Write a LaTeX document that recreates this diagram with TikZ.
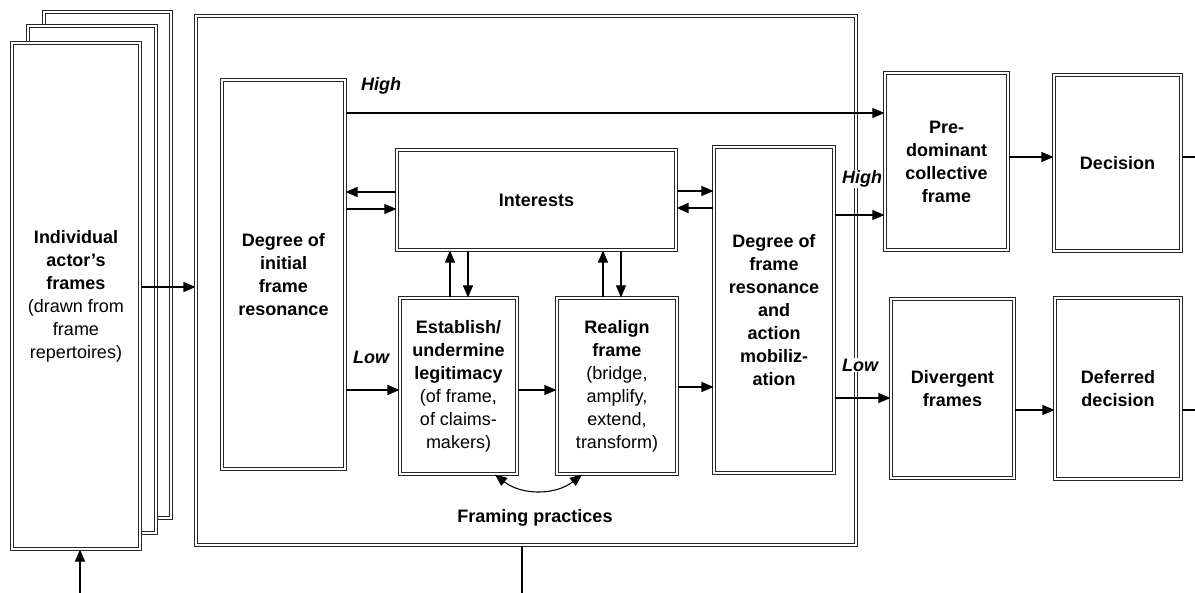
\documentclass[tikz,border=0pt]{standalone}
\usepackage{fontspec}
\setmainfont{Liberation Sans}
\usetikzlibrary{arrows.meta}
\begin{document}
\begin{tikzpicture}[x=1pt,y=-1pt,
  box/.style={draw=black!85, line width=1.1pt, double=white, double distance=1.7pt, fill=white, inner sep=0pt, align=center, font=\fontsize{18}{23}\selectfont},
  conn/.style={line width=1.1pt, -{Triangle[length=12pt,width=10pt]}},
  plain/.style={line width=1.1pt},
  lab/.style={font=\fontsize{18}{22}\selectfont\bfseries\itshape, inner sep=1pt}
]
\useasboundingbox (0,0) rectangle (1195,593);
% stacked frames
\node[box, minimum width=127pt, minimum height=506pt] (f3) at (107.5,265) {};
\node[box, minimum width=128pt, minimum height=507pt] (f2) at (92,279.5) {};
\node[box, minimum width=128pt, minimum height=506pt] (f1) at (76,296) {\bfseries Individual\\\bfseries actor’s\\\bfseries frames\\\mdseries (drawn from\\\mdseries frame\\\mdseries repertoires)};
% big box
\node[box, minimum width=660pt, minimum height=529pt] (big) at (526,280.5) {};
\node[font=\fontsize{18}{22}\selectfont\bfseries] (fp) at (535,518) {Framing practices};
% inner boxes
\node[box, minimum width=123pt, minimum height=389pt] (dinit) at (283.5,274.5) {\bfseries Degree of\\\bfseries initial\\\bfseries frame\\\bfseries resonance};
\node[box, minimum width=279pt, minimum height=100pt] (int) at (536.5,200) {\bfseries Interests};
\node[box, minimum width=117pt, minimum height=176pt] (est) at (458.5,386) {\bfseries Establish/\\\bfseries undermine\\\bfseries legitimacy\\\mdseries (of frame,\\\mdseries of claims-\\\mdseries makers)};
\node[box, minimum width=120pt, minimum height=176pt] (real) at (617,386) {\bfseries Realign\\\bfseries frame\\\mdseries (bridge,\\\mdseries amplify,\\\mdseries extend,\\\mdseries transform)};
\node[box, minimum width=120pt, minimum height=326pt] (dfr) at (774,310) {\bfseries Degree of\\\bfseries frame\\\bfseries resonance\\\bfseries and\\\bfseries action\\\bfseries mobiliz-\\\bfseries ation};
% outcome boxes
\node[box, minimum width=123pt, minimum height=177pt] (pre) at (946.5,161.5) {\bfseries Pre-\\\bfseries dominant\\\bfseries collective\\\bfseries frame};
\node[box, minimum width=127pt, minimum height=176pt] (dec) at (1117.5,163) {\bfseries Decision};
\node[box, minimum width=123pt, minimum height=179pt] (div) at (952.5,388.5) {\bfseries Divergent\\\bfseries frames};
\node[box, minimum width=126pt, minimum height=181pt] (def) at (1118,388.5) {\bfseries Deferred\\\bfseries decision};
% labels
\node[lab] (high1) at (381,86) {High};
\node[lab] (low1) at (371,357) {Low};
\node[lab, fill=white] (high2) at (862,179) {High};
\node[lab, fill=white] (low2) at (860,365) {Low};
% connectors
\coordinate (inA) at (80,593);
\coordinate (outB) at (522,593);
\coordinate (outD) at (1195,157);
\coordinate (outF) at (1195,410);
\draw[conn] (inA) -- (f1.south -| inA);
\draw[plain] (big.south -| outB) -- (outB);
\draw[conn] (f1.east |- 0,287) -- (big.west |- 0,287);
\draw[conn] (dinit.east |- 0,113) -- (pre.west |- 0,113);
\draw[conn] (int.west |- 0,192) -- (dinit.east |- 0,192);
\draw[conn] (dinit.east |- 0,209) -- (int.west |- 0,209);
\draw[conn] (int.east |- 0,191) -- (dfr.west |- 0,191);
\draw[conn] (dfr.west |- 0,208) -- (int.east |- 0,208);
\draw[conn] (est.north -| 450,0) -- (int.south -| 450,0);
\draw[conn] (int.south -| 468,0) -- (est.north -| 468,0);
\draw[conn] (real.north -| 603,0) -- (int.south -| 603,0);
\draw[conn] (int.south -| 621,0) -- (real.north -| 621,0);
\draw[conn] (dinit.east |- 0,390) -- (est.west |- 0,390);
\draw[conn] (est.east |- 0,390) -- (real.west |- 0,390);
\draw[conn] (real.east |- 0,387) -- (dfr.west |- 0,387);
\draw[conn] (dfr.east |- 0,215) -- (pre.west |- 0,215);
\draw[conn] (dfr.east |- 0,398) -- (div.west |- 0,398);
\draw[conn] (pre.east |- 0,157) -- (dec.west |- 0,157);
\draw[conn] (div.east |- 0,410) -- (def.west |- 0,410);
\draw[plain] (dec.east |- outD) -- (outD);
\draw[plain] (def.east |- outF) -- (outF);
\draw[line width=1.1pt, {Triangle[length=12pt,width=10pt]}-{Triangle[length=12pt,width=10pt]}] (est.south -| 495,0) to[bend right=38] (real.south -| 582,0);
\end{tikzpicture}
\end{document}
